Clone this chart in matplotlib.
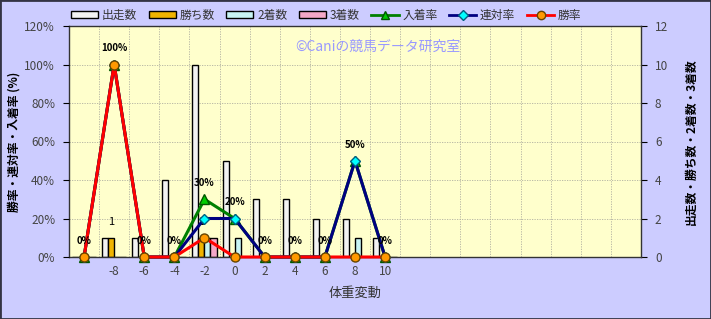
import matplotlib
matplotlib.use("Agg")
import matplotlib.pyplot as plt
from matplotlib.patches import Patch, Rectangle
from matplotlib.lines import Line2D
from matplotlib.ticker import FuncFormatter, MultipleLocator
import numpy as np

plt.rcParams['font.family'] = ['Noto Sans CJK JP', 'DejaVu Sans']

# categories (weight change); only first 11 have data
labels = ['', '-8', '-6', '-4', '-2', '0', '2', '4', '6', '8', '10',
          '', '', '', '', '', '', '', '']
starts = [0, 1, 1, 4, 10, 5, 3, 3, 2, 2, 1]
wins = [0, 1, 0, 0, 1, 0, 0, 0, 0, 0, 0]
seconds = [0, 0, 0, 0, 1, 1, 0, 0, 0, 1, 0]
thirds = [0, 0, 0, 0, 1, 0, 0, 0, 0, 0, 0]
win_rate = [0, 100, 0, 0, 10, 0, 0, 0, 0, 0, 0]
rentai_rate = [0, 100, 0, 0, 20, 20, 0, 0, 0, 50, 0]
nyuchaku_rate = [0, 100, 0, 0, 30, 20, 0, 0, 0, 50, 0]

bg = '#ccccff'
fig = plt.figure(figsize=(7.11, 3.19), dpi=100, facecolor=bg)
ax = fig.add_axes([69/711, 62/319, 572/711, 231/319])
ax.set_facecolor('#ffffcc')
axr = ax.twinx()

n = len(labels)
x = np.arange(len(starts))
w = 0.2
bar_colors = ['#f2f2f2', '#f0b400', '#c8f4f4', '#f4a8c8']
bar_data = [starts, wins, seconds, thirds]
for k, (vals, c) in enumerate(zip(bar_data, bar_colors)):
    ax.bar(x + (k - 1.5) * w, vals, width=w, color=c, edgecolor='black',
           linewidth=1.0, zorder=2)

for i, v in enumerate(wins):
    if v > 0:
        ax.annotate(str(v), (x[i] - 0.5 * w, v), textcoords='offset points',
                    xytext=(0, 8), ha='center', va='bottom', fontsize=8,
                    color='black', zorder=3)

# bars axis: counts on the right
ax.set_xlim(-0.5, n - 0.5)
ax.set_ylim(0, 12)
ax.set_xticks(np.arange(n))
ax.set_xticklabels(labels)
ax.set_xticks(np.arange(n) - 0.5, minor=True)
ax.tick_params(axis='x', which='both', length=0, labelsize=8.5,
               labelcolor='#444444', pad=6)
ax.yaxis.tick_right()
ax.yaxis.set_label_position('right')
ax.yaxis.set_major_locator(MultipleLocator(2))
ax.tick_params(axis='y', length=4, direction='out', labelsize=8.5,
               labelcolor='#444444', pad=6)
ax.grid(True, which='major', axis='y', color='#b0b0a0', linestyle=(0, (1.5, 1.5)), linewidth=0.6)
ax.grid(True, which='minor', axis='x', color='#b0b0a0', linestyle=(0, (1.5, 1.5)), linewidth=0.6)
ax.set_axisbelow(True)
ax.set_ylabel('出走数・勝ち数・2着数・3着数', fontsize=8.5, fontweight='bold',
              rotation=90, labelpad=12)
ax.set_xlabel('体重変動', fontsize=9.5, color='#333333', labelpad=6)
for s in ax.spines.values():
    s.set_color('#333333')
    s.set_linewidth(1.0)

# rates axis: percent on the left
axr.yaxis.tick_left()
axr.yaxis.set_label_position('left')
axr.set_ylim(0, 120)
axr.yaxis.set_major_locator(MultipleLocator(20))
axr.yaxis.set_major_formatter(FuncFormatter(lambda v, p: '%d%%' % v))
axr.tick_params(axis='y', length=4, direction='out', labelsize=8.5,
                labelcolor='#444444', pad=6)
axr.set_ylabel('勝率・連対率・入着率 (%)', fontsize=8.5, fontweight='bold', labelpad=3)
for s in axr.spines.values():
    s.set_visible(False)

axr.plot(x, nyuchaku_rate, color='#008000', lw=2.2, marker='^', ms=7,
         mfc='#00cc00', mec='#005500', zorder=3, clip_on=False)
axr.plot(x, rentai_rate, color='#000080', lw=2.2, marker='D', ms=5.5,
         mfc='#00ffff', mec='#006080', zorder=4, clip_on=False)
axr.plot(x, win_rate, color='#ff0000', lw=2.2, marker='o', ms=6.5,
         mfc='#ff9900', mec='#664400', zorder=5, clip_on=False)

for i, v in enumerate(nyuchaku_rate):
    axr.annotate('%d%%' % v, (x[i], v), textcoords='offset points',
                 xytext=(0, 8), ha='center', va='bottom', fontsize=7,
                 fontweight='bold', color='black', zorder=6)

fig.text(378/711, 1 - 47/319, '©Caniの競馬データ研究室', color='#9999ff',
         fontsize=10, ha='center', va='center')

handles = [Patch(facecolor=c, edgecolor='black', linewidth=1.0) for c in bar_colors]
handles += [
    Line2D([], [], color='#008000', lw=2, marker='^', ms=6, mfc='#00cc00', mec='#005500'),
    Line2D([], [], color='#000080', lw=2, marker='D', ms=5, mfc='#00ffff', mec='#006080'),
    Line2D([], [], color='#ff0000', lw=2, marker='o', ms=6, mfc='#ff9900', mec='#664400'),
]
names = ['出走数', '勝ち数', '2着数', '3着数', '入着率', '連対率', '勝率']
fig.legend(handles, names, loc='center', bbox_to_anchor=(326/711, 1 - 15/319),
           ncol=7, frameon=False, fontsize=8.5, handlelength=2.3,
           handleheight=0.5, columnspacing=1.0, handletextpad=0.3,
           labelcolor='#333333')

fig.patches.append(Rectangle((0, 0), 1, 1, transform=fig.transFigure,
                             fill=False, edgecolor='#333344', linewidth=2))

fig.savefig('out.png', dpi=100, facecolor=bg)
